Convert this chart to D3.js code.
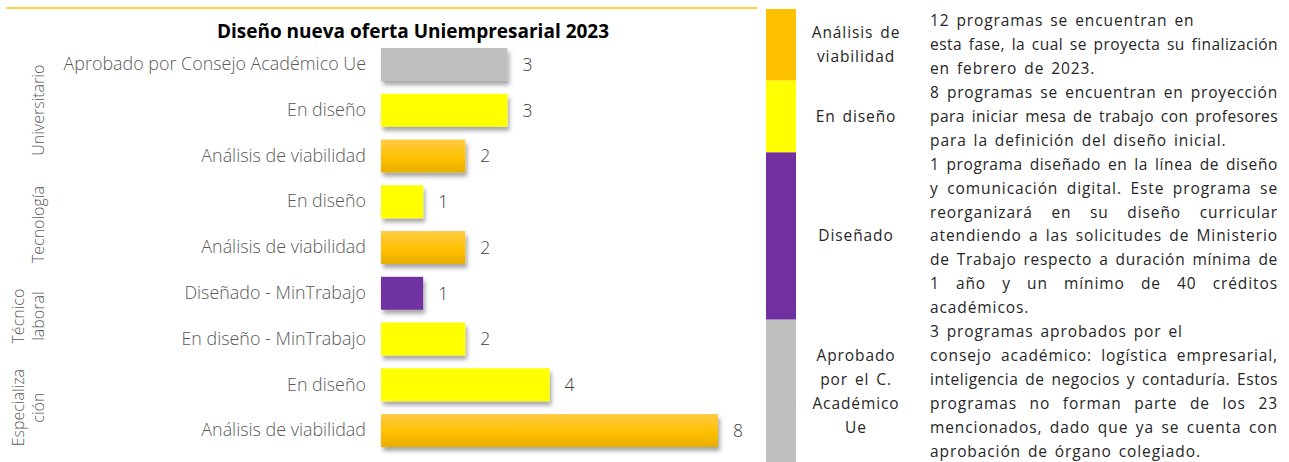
<!DOCTYPE html>
<html>
<head>
<meta charset="utf-8">
<script src="https://cdn.jsdelivr.net/npm/d3@7"></script>
<style>
  body { margin: 0; background: #fff; }
  svg { display: block; }
</style>
</head>
<body>
<svg id="chart" width="1289" height="462"></svg>
<script>
// datos del grafico (de arriba hacia abajo)
var grupos = ["Universitario","Universitario","Universitario","Tecnología","Tecnología","Técnico laboral","Técnico laboral","Especialización","Especialización"]
var etiquetas = ["Aprobado por Consejo Académico Ue","En diseño","Análisis de viabilidad","En diseño","Análisis de viabilidad","Diseñado - MinTrabajo","En diseño - MinTrabajo","En diseño","Análisis de viabilidad"]
var valores = [3,3,2,1,2,1,2,4,8]
var estados = ["aprobado","diseno","analisis","diseno","analisis","disenado","diseno","diseno","analisis"]
var gruposTexto = {"Universitario":["Universitario"],"Tecnología":["Tecnología"],"Técnico laboral":["Técnico","laboral"],"Especialización":["Especializa","ción"]}

// panel de la derecha
var panelEstados = ["analisis","diseno","disenado","aprobado"]
var panelEtiquetas = [["Análisis de","viabilidad"],["En diseño"],["Diseñado"],["Aprobado","por el C.","Académico","Ue"]]
var panelTextos = [
  ["12 programas se encuentran en","esta fase, la cual se proyecta su finalización","en febrero de 2023."],
  ["8 programas se encuentran en proyección","para iniciar mesa de trabajo con profesores","para la definición del diseño inicial."],
  ["1 programa diseñado en la línea de diseño","y comunicación digital. Este programa se","reorganizará en su diseño curricular","atendiendo a las solicitudes de Ministerio","de Trabajo respecto a duración mínima de","1 año y un mínimo de 40 créditos","académicos."],
  ["3 programas aprobados por el","consejo académico: logística empresarial,","inteligencia de negocios y contaduría. Estos","programas no forman parte de los 23","mencionados, dado que ya se cuenta con","aprobación de órgano colegiado."]
]
// lineas que terminan en salto manual (no se justifican)
var saltos = ["12 programas se encuentran en","3 programas aprobados por el"]

var colores = {analisis:"url(#gradNaranja)", diseno:"#FFFF00", disenado:"#7030A0", aprobado:"#BFBFBF"}
var coloresPanel = {analisis:"#FFC000", diseno:"#FFFF00", disenado:"#7030A0", aprobado:"#BFBFBF"}
var fuenteIzq = "'Open Sans', sans-serif", fuenteDer = "'Open Sans', sans-serif"

var svg = d3.select("#chart")
var defs = svg.append("defs")
var grad = defs.append("linearGradient").attr("id","gradNaranja").attr("x1",0).attr("y1",0).attr("x2",0).attr("y2",1)
grad.append("stop").attr("offset","0%").attr("stop-color","#FFCB45")
grad.append("stop").attr("offset","55%").attr("stop-color","#FFC000")
grad.append("stop").attr("offset","100%").attr("stop-color","#E8AE00")
var sombra = defs.append("filter").attr("id","sombra").attr("x","-10%").attr("y","-20%").attr("width","130%").attr("height","160%")
sombra.append("feDropShadow").attr("dx",2).attr("dy",4).attr("stdDeviation",2.2).attr("flood-color","#000").attr("flood-opacity",0.35)

// linea superior
svg.append("line").attr("x1",6).attr("x2",757).attr("y1",8).attr("y2",8)
  .attr("stroke","#FFC000").attr("stroke-width",1.5)

svg.append("text").attr("x",413).attr("y",38).attr("text-anchor","middle")
  .style("font-family",fuenteIzq).style("font-weight","700").style("font-size","19px")
  .attr("fill","#000").text("Diseño nueva oferta Uniempresarial 2023")

var idx = d3.range(valores.length)
var xScale = d3.scaleLinear().domain([0,8]).range([381,718])
var yScale = d3.scaleBand().domain(idx).range([41.6,453.4]).paddingInner(0.28).paddingOuter(0.14)

svg.append("g").selectAll("rect").data(idx).enter().append("rect")
  .attr("x", xScale(0))
  .attr("y", d=>yScale(d))
  .attr("width", d=>xScale(valores[d])-xScale(0))
  .attr("height", yScale.bandwidth())
  .attr("fill", d=>colores[estados[d]])
  .attr("filter","url(#sombra)")

svg.append("g").selectAll("text").data(idx).enter().append("text")
  .attr("x", d=>xScale(valores[d])+15)
  .attr("y", d=>yScale(d)+yScale.bandwidth()/2)
  .attr("dy","0.36em")
  .style("font-family",fuenteIzq).style("font-size","17.5px").style("font-weight","300")
  .attr("fill","#404040")
  .text(d=>valores[d])

var yAxis = d3.axisLeft(yScale).tickSize(0).tickPadding(15).tickFormat(d=>etiquetas[d])
var ax = svg.append("g").attr("transform","translate(381,0)").call(yAxis)
ax.select(".domain").remove()
ax.selectAll("text").style("font-family",fuenteIzq).style("font-size","17.9px").style("font-weight","300").attr("fill","#595959")

// etiquetas de grupo rotadas
var nombresGrupo = Array.from(new Set(grupos))
nombresGrupo.forEach(g=>{
  var filas = idx.filter(i=>grupos[i]==g)
  var yc = (yScale(filas[0]) + yScale(filas[filas.length-1]) + yScale.bandwidth())/2
  var lineas = gruposTexto[g]
  lineas.forEach((l,k)=>{
    var xc = 38 - (lineas.length-1-k)*20
    svg.append("text").attr("transform","translate("+xc+","+yc+") rotate(-90)")
      .attr("text-anchor","middle").attr("dy","0.35em")
      .style("font-family",fuenteIzq).style("font-size","16px").style("font-weight","300")
      .attr("fill","#595959").text(l)
  })
})

// panel derecho
var lh = 23.9, y0 = 9, anchoTexto = 348, xTexto = 930, tam = "15.5px", ls0 = 0.9
function estilo(s, ls){ return s.style("font-family",fuenteDer).style("font-size",tam)
  .style("letter-spacing",(ls==null?ls0:ls)+"px").style("word-spacing","2px").attr("fill","#262626") }
var acumulado = 0
var medidor = estilo(svg.append("text"))
function ancho(t, ls){ estilo(medidor, ls).text(t); return medidor.node().getComputedTextLength() }

panelEstados.forEach((e,i)=>{
  var n = panelTextos[i].length
  var top = y0 + acumulado*lh, h = n*lh
  svg.append("rect").attr("x",766).attr("y",top).attr("width",30).attr("height",h).attr("fill",coloresPanel[e])
  var et = panelEtiquetas[i]
  et.forEach((l,k)=>{
    estilo(svg.append("text")).attr("x",856).attr("y", top + h/2 + (k-(et.length-1)/2)*23.8)
      .attr("dy","0.35em").attr("text-anchor","middle").text(l)
  })
  panelTextos[i].forEach((l,k)=>{
    var yl = top + (k+0.5)*lh
    var ls = ls0
    var w = ancho(l, ls)
    if (w > anchoTexto) { ls = ls0 - (w-anchoTexto+2)/l.length; w = ancho(l, ls) }
    var t = estilo(svg.append("text"), ls).attr("y",yl).attr("dy","0.35em")
    var justificar = k < n-1 && saltos.indexOf(l) < 0
    if (justificar) {
      var palabras = l.split(" ")
      var anchos = palabras.map(p=>ancho(p, ls))
      var hueco = (anchoTexto-d3.sum(anchos))/(palabras.length-1)
      var x = xTexto
      palabras.forEach((p,j)=>{
        t.append("tspan").attr("x",x).text(p)
        x += anchos[j]+hueco
      })
    } else {
      t.attr("x",xTexto).text(l)
    }
  })
  acumulado += n
})
medidor.remove()
</script>
</body>
</html>
